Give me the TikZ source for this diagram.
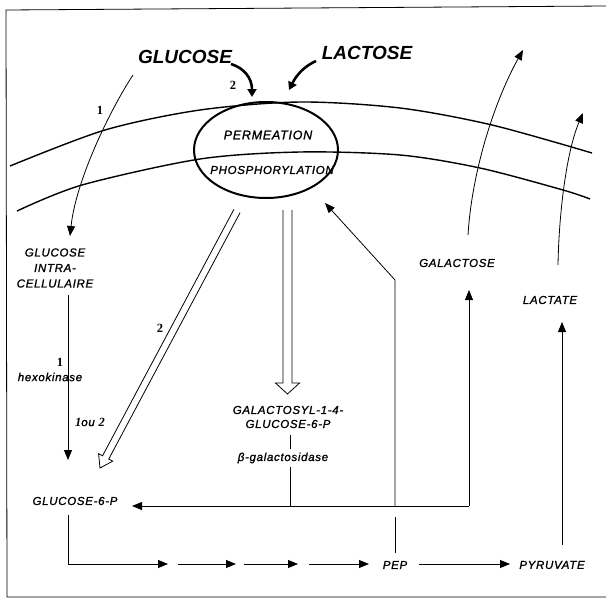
\documentclass[tikz,border=0pt]{standalone}
\usepackage{fontspec}
\setmainfont{Liberation Sans}
\newfontfamily\lab[LetterSpace=6,FakeBold=1.3]{Liberation Sans}
\newfontfamily\num{Liberation Serif}
\usetikzlibrary{arrows.meta,calc}
\begin{document}
\begin{tikzpicture}[x=1pt,y=-1pt,
  lbl/.style={font=\lab\itshape\fontsize{11.5}{14}\selectfont, inner sep=0pt, align=center},
  big/.style={font=\bfseries\itshape\fontsize{19}{20}\selectfont, inner sep=0pt},
  mid/.style={font=\lab\itshape\fontsize{12.5}{14}\selectfont, inner sep=0pt},
  numlbl/.style={font=\num\bfseries\fontsize{12.5}{12.5}\selectfont, inner sep=0pt},
  arr/.style={line width=0.8pt, -{Triangle[length=10pt,width=8pt]}},
  thin/.style={line width=0.8pt},
  memb/.style={line width=1.4pt},
  dbl/.style={line width=0.8pt, line join=miter},
  fat/.style={line width=2.6pt, -{Triangle[length=8pt,width=9pt]}}]
\useasboundingbox (0,0) rectangle (606,600);
% frame
\draw[thin] (606,6) -- (6,10) -- (7,597) -- (606,597);
% membranes
\draw[memb] plot[smooth] coordinates {(10,166) (105,130) (200,110) (300,102) (400,108) (492,125) (592,153)};
\draw[memb] plot[smooth] coordinates {(17,211) (82,185) (200,159) (300,152) (400,155) (480,168) (563,190) (590,199)};
% oval
\draw[line width=2pt] (266,150) ellipse [x radius=72pt, y radius=48pt];
% texts
\node[big] (glc) at (185,57) {GLUCOSE};
\node[big] (lac) at (367,53) {LACTOSE};
\node[mid] (perm) at (268,135) {PERMEATION};
\node[lbl] (phos) at (272,170) {PHOSPHORYLATION};
\node[lbl, font=\lab\itshape\fontsize{11.5}{15.5}\selectfont] (gi) at (55,268) {GLUCOSE\\INTRA-\\CELLULAIRE};
\node[numlbl] (n1h) at (60,362) {1};
\node[lbl] (hexo) at (50,377) {hexokinase};
\node[lbl] (ou) at (90,422) {{\num\bfseries\fontsize{12.5}{12.5}\selectfont 1}ou {\num\bfseries\fontsize{12.5}{12.5}\selectfont 2}};
\node[numlbl] (n2d) at (160,328) {2};
\node[numlbl] (n1) at (100,110) {1};
\node[numlbl] (n2) at (233,85) {2};
\node[lbl] (g6p) at (75,501) {GLUCOSE-6-P};
\node[lbl] (galsyl) at (288,417) {GALACTOSYL-1-4-\\GLUCOSE-6-P};
\node[lbl] (bgal) at (283,458) {β-galactosidase};
\node[lbl] (gal) at (457,263) {GALACTOSE};
\node[lbl] (lact) at (550,300) {LACTATE};
\node[lbl] (pep) at (395,565) {PEP};
\node[lbl] (pyr) at (552,565) {PYRUVATE};
% coordinates
\coordinate (a1s) at (133,75);
\coordinate (a1e) at (70,236);
\coordinate (hxs) at (68,295);
\coordinate (hxe) at (68,460);
\coordinate (dA) at (237,211);
\coordinate (dB) at (100,468);
\coordinate (vA) at (287.5,210);
\coordinate (vB) at (287.5,394);
\coordinate (galc) at (469,506);
\coordinate (galtip) at (469,290);
\coordinate (g6tip) at (132,506);
\coordinate (bg1) at (290,435);
\coordinate (bg2) at (290,449);
\coordinate (bg3) at (290,467);
\coordinate (bg4) at (290,506);
\coordinate (pep1) at (395,553);
\coordinate (pep2) at (395,517);
\coordinate (pep3) at (395,506);
\coordinate (pep4) at (395,280);
\coordinate (pep5) at (325,203);
\coordinate (py1) at (562,545);
\coordinate (py2) at (562,322);
\coordinate (c0) at (68,515);
\coordinate (c1) at (68,564);
\coordinate (c2) at (168,564);
\coordinate (c3) at (178,564);
\coordinate (c4) at (236,564);
\coordinate (c5) at (244,564);
\coordinate (c6) at (298,564);
\coordinate (c7) at (309,564);
\coordinate (c8) at (369,564);
\coordinate (c9) at (419,564);
\coordinate (c10) at (510,564);
\coordinate (go1) at (468,235);
\coordinate (go2) at (523,50);
\coordinate (lo1) at (558,265);
\coordinate (lo2) at (583,113);
\coordinate (gb1) at (231,64);
\coordinate (gb2) at (252,97);
\coordinate (lb1) at (316,61);
\coordinate (lb2) at (289,90);
% arrows
\draw[arr] (a1s) .. controls (110,110) and (76,180) .. (a1e);
\draw[arr] (hxs) -- (hxe);
\draw[arr] (galc) -- (galtip);
\draw[arr] (galc) -- (g6tip);
\draw[thin] (bg1) -- (bg2);
\draw[thin] (bg3) -- (bg4);
\draw[thin] (pep1) -- (pep2);
\draw[arr] (pep3) -- (pep4) -- (pep5);
\draw[arr] (py1) -- (py2);
\draw[arr] (c0) -- (c1) -- (c2);
\draw[arr] (c3) -- (c4);
\draw[arr] (c5) -- (c6);
\draw[arr] (c7) -- (c8);
\draw[arr] (c9) -- (c10);
\draw[arr] (go1) .. controls (472,170) and (495,100) .. (go2);
\draw[arr] (lo1) .. controls (559,210) and (567,150) .. (lo2);
\draw[fat] (gb1) .. controls (244,68) and (252,78) .. (gb2);
\draw[fat] (lb1) .. controls (305,66) and (297,74) .. (lb2);
% double (hollow) arrows
\coordinate (dH) at ($(dB)!12pt!(dA)$);
\draw[dbl] ($(dA)!3.5pt!90:(dB)$) -- ($(dH)!3.5pt!-90:(dA)$) -- ($(dH)!8pt!-90:(dA)$) -- (dB)
  -- ($(dH)!8pt!90:(dA)$) -- ($(dH)!3.5pt!90:(dA)$) -- ($(dA)!3.5pt!-90:(dB)$);
\coordinate (vH) at ($(vB)!11pt!(vA)$);
\draw[dbl] ($(vA)!4.5pt!90:(vB)$) -- ($(vH)!4.5pt!-90:(vA)$) -- ($(vH)!12pt!-90:(vA)$) -- (vB)
  -- ($(vH)!12pt!90:(vA)$) -- ($(vH)!4.5pt!90:(vA)$) -- ($(vA)!4.5pt!-90:(vB)$);
\end{tikzpicture}
\end{document}
